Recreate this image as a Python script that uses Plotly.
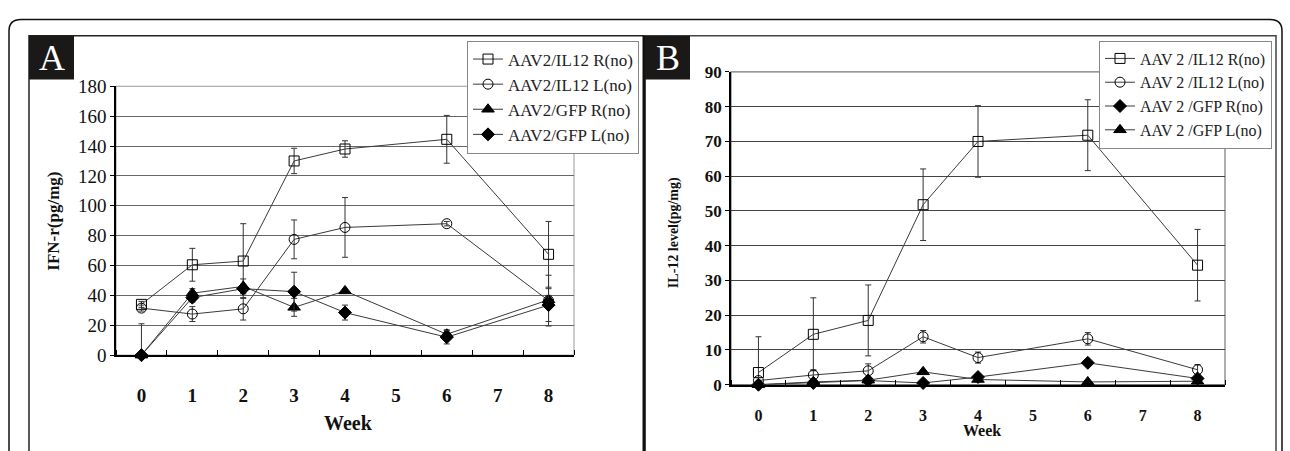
import plotly.graph_objects as go

W, H = 1290, 451

weeks = [0, 1, 2, 3, 4, 6, 8]
x_tick_labels = ["0", "1", "2", "3", "4", "5", "6", "7", "8"]

# Panel A: IFN-r (pg/mg)
a_names = ["AAV2/IL12 R(no)", "AAV2/IL12 L(no)", "AAV2/GFP R(no)", "AAV2/GFP L(no)"]
a_il12r = [34, 60.5, 63, 130, 138, 144.5, 67.5]
a_il12r_err = [2, 11, 25, 8.5, 5.5, 16, 22]
a_il12l = [31.5, 27.5, 31, 77.5, 85.5, 88, 36.5]
a_il12l_err = [2, 5, 7.5, 13, 20, 1.5, 17]
a_gfpr = [0, 41.5, 46, 32, 43, 14, 37]
a_gfpr_err_up = [21, 3, 5, 6, 1, 3, 3]
a_gfpr_err_dn = [0, 3, 5, 6, 1, 3, 3]
a_gfpl = [0, 38.5, 44.5, 42.5, 28.5, 12, 33.5]
a_gfpl_err = [0, 3, 3, 13, 5, 4.5, 11]

# Panel B: IL-12 level (pg/mg)
b_names = ["AAV 2 /IL12 R(no)", "AAV 2 /IL12 L(no)", "AAV 2 /GFP R(no)", "AAV 2 /GFP L(no)"]
b_il12r = [3.5, 14.5, 18.5, 51.8, 70, 71.8, 34.4]
b_il12r_err_up = [10.3, 10.5, 10.2, 10.3, 10.3, 10.2, 10.3]
b_il12r_err_dn = [3.5, 10.5, 10.2, 10.3, 10.3, 10.2, 10.3]
b_il12l = [1.2, 2.8, 4, 13.8, 7.8, 13.2, 4.3]
b_il12l_err = [0.8, 1.5, 2, 1.8, 1.6, 1.8, 1.5]
b_gfpr = [0, 0.5, 1.2, 0.5, 2.2, 6.3, 1.8]
b_gfpr_err = [0, 0.4, 0.4, 0.3, 0.5, 0.5, 0.5]
b_gfpl = [0, 0.8, 1.3, 3.7, 1.5, 0.8, 1.0]
b_gfpl_err = [0, 0.3, 0.3, 0.5, 0.4, 0.3, 0.3]


def fx(x):
    return x / W


def fy(y):
    return 1 - y / H


LINE = "#3a3a3a"
SERIF = "Liberation Serif"

fig = go.Figure()


def add(x, y, name, symbol, size, up, dn, xa, ya, legend):
    fig.add_trace(go.Scatter(
        x=x, y=y, name=name, mode="lines+markers", xaxis=xa, yaxis=ya,
        legend=legend, cliponaxis=False,
        line=dict(color=LINE, width=1),
        marker=dict(symbol=symbol, size=size, color="black",
                    line=dict(color="black", width=1)),
        error_y=dict(type="data", array=up, arrayminus=dn, visible=True,
                     color="#333", thickness=1, width=3),
    ))


add(weeks, a_il12r, a_names[0], "square-open", 10, a_il12r_err, a_il12r_err, "x", "y", "legend")
add(weeks, a_il12l, a_names[1], "circle-open", 10, a_il12l_err, a_il12l_err, "x", "y", "legend")
add(weeks, a_gfpr, a_names[2], "triangle-up", 11, a_gfpr_err_up, a_gfpr_err_dn, "x", "y", "legend")
add(weeks, a_gfpl, a_names[3], "diamond", 10, a_gfpl_err, a_gfpl_err, "x", "y", "legend")

add(weeks, b_il12r, b_names[0], "square-open", 10, b_il12r_err_up, b_il12r_err_dn, "x2", "y2", "legend2")
add(weeks, b_il12l, b_names[1], "circle-open", 10, b_il12l_err, b_il12l_err, "x2", "y2", "legend2")
add(weeks, b_gfpr, b_names[2], "diamond", 10, b_gfpr_err, b_gfpr_err, "x2", "y2", "legend2")
add(weeks, b_gfpl, b_names[3], "triangle-up", 11, b_gfpl_err, b_gfpl_err, "x2", "y2", "legend2")

xcommon = dict(
    range=[-0.5, 8.5], tickmode="array", tickvals=list(range(9)),
    ticktext=x_tick_labels, ticks="", showgrid=False, zeroline=False,
    showline=True, linecolor="black", linewidth=1.5,
    minor=dict(tickmode="linear", tick0=0.5, dtick=1, ticks="inside",
               ticklen=5, tickcolor="black", tickwidth=1, showgrid=False),
)

fig.update_layout(
    width=W, height=H, margin=dict(l=0, r=0, t=0, b=0),
    paper_bgcolor="white", plot_bgcolor="white",
    xaxis=dict(domain=[fx(116), fx(574)], anchor="y", ticklabelstandoff=22,
               tickfont=dict(family=SERIF, size=19, color="#111", weight="bold"),
               **xcommon),
    yaxis=dict(domain=[fy(362), fy(80)], anchor="x", range=[0, 180],
               tickmode="linear", tick0=0, dtick=20, ticks="outside", ticklen=4,
               tickcolor="black", showgrid=True, gridcolor="#666", gridwidth=1,
               zeroline=False, showline=True, linecolor="black", linewidth=1.5,
               tickfont=dict(family=SERIF, size=19, color="#111")),
    xaxis2=dict(domain=[fx(731), fx(1225)], anchor="y2", ticklabelstandoff=15,
                tickfont=dict(family=SERIF, size=16, color="#111", weight="bold"),
                **xcommon),
    yaxis2=dict(domain=[fy(393), fy(65)], anchor="x2", range=[0, 90],
                tickmode="linear", tick0=0, dtick=10, ticks="outside", ticklen=4,
                tickcolor="black", showgrid=True, gridcolor="#444", gridwidth=1,
                zeroline=False, showline=True, linecolor="black", linewidth=1.5,
                tickfont=dict(family=SERIF, size=17, color="#111", weight="bold")),
    legend=dict(x=fx(467), y=fy(32), xanchor="left", yanchor="top",
                bgcolor="white", bordercolor="#888", borderwidth=1,
                font=dict(family=SERIF, size=17, color="#222"),
                itemwidth=30, tracegroupgap=0),
    legend2=dict(x=fx(1099), y=fy(32), xanchor="left", yanchor="top",
                 bgcolor="white", bordercolor="#888", borderwidth=1,
                 font=dict(family=SERIF, size=16, color="#222"),
                 itemwidth=30, tracegroupgap=0),
    showlegend=True,
)

shapes = []
# outer rounded frame
L, T, R, B, r = 9, 10, 1282, 470, 12
path = (f"M {fx(L)},{fy(B)} L {fx(L)},{fy(T + r)} Q {fx(L)},{fy(T)} {fx(L + r)},{fy(T)} "
        f"L {fx(R - r)},{fy(T)} Q {fx(R)},{fy(T)} {fx(R)},{fy(T + r)} L {fx(R)},{fy(B)}")
shapes.append(dict(type="path", xref="paper", yref="paper", path=path,
                   line=dict(color="#111", width=1.5)))
# panel frames
shapes.append(dict(type="rect", xref="paper", yref="paper", x0=fx(29), x1=fx(644),
                   y0=fy(470), y1=fy(27), line=dict(color="#222", width=1.5)))
shapes.append(dict(type="rect", xref="paper", yref="paper", x0=fx(645), x1=fx(1276),
                   y0=fy(470), y1=fy(27), line=dict(color="#444", width=1.5)))
shapes.append(dict(type="line", xref="paper", yref="paper", x0=fx(644), x1=fx(644),
                   y0=fy(470), y1=fy(27), line=dict(color="#111", width=3)))
# letter boxes
for x0 in (29, 645):
    shapes.append(dict(type="rect", xref="paper", yref="paper", x0=fx(x0), x1=fx(x0 + 45),
                       y0=fy(73), y1=fy(27), fillcolor="#1b1818",
                       line=dict(color="#1b1818", width=0)))
# plot area borders (top/right light)
shapes.append(dict(type="rect", xref="x domain", yref="y domain", x0=0, x1=1, y0=0, y1=1,
                   line=dict(color="#999", width=1), layer="below"))
shapes.append(dict(type="rect", xref="x2 domain", yref="y2 domain", x0=0, x1=1, y0=0, y1=1,
                   line=dict(color="#777", width=1.2), layer="below"))
fig.update_layout(shapes=shapes)

ann = [
    dict(text="A", x=fx(51.5), y=fy(50), xref="paper", yref="paper", showarrow=False,
         font=dict(family=SERIF, size=36, color="white"), xanchor="center", yanchor="middle"),
    dict(text="B", x=fx(667.5), y=fy(50), xref="paper", yref="paper", showarrow=False,
         font=dict(family=SERIF, size=36, color="white"), xanchor="center", yanchor="middle"),
    dict(text="IFN-r(pg/mg)", x=fx(54), y=fy(222), xref="paper", yref="paper",
         showarrow=False, textangle=-90,
         font=dict(family=SERIF, size=17, color="#111", weight="bold"),
         xanchor="center", yanchor="middle"),
    dict(text="IL-12 level(pg/mg)", x=fx(674), y=fy(233), xref="paper", yref="paper",
         showarrow=False, textangle=-90,
         font=dict(family=SERIF, size=14, color="#111", weight="bold"),
         xanchor="center", yanchor="middle"),
    dict(text="Week", x=fx(348), y=fy(433), xref="paper", yref="paper", showarrow=False,
         font=dict(family=SERIF, size=20, color="#111", weight="bold"),
         xanchor="center", yanchor="middle"),
    dict(text="Week", x=fx(982), y=fy(441), xref="paper", yref="paper", showarrow=False,
         font=dict(family=SERIF, size=16, color="#111", weight="bold"),
         xanchor="center", yanchor="middle"),
]
fig.update_layout(annotations=ann)

fig.write_html("out.html", config={"displayModeBar": False},
               post_script="document.body.style.margin='0';document.body.style.padding='0';")
